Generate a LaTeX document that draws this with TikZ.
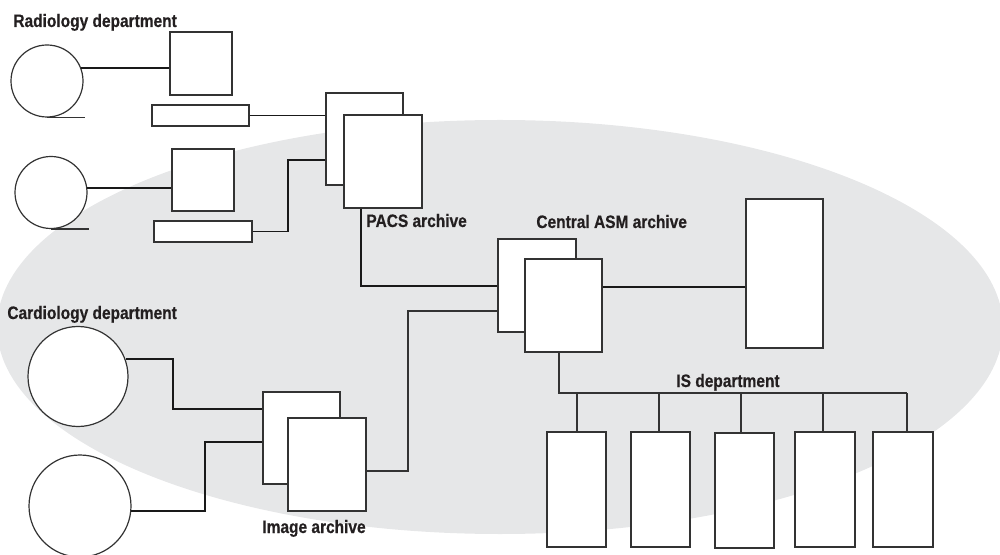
\documentclass[tikz,border=0pt]{standalone}
\usepackage{fontspec}
\newfontfamily\labfont{Liberation Sans}[FakeStretch=0.86,FakeBold=0.5]
\usetikzlibrary{fit}
\definecolor{bgray}{HTML}{E6E7E8}
\definecolor{lgray}{HTML}{333333}
\definecolor{tgray}{HTML}{231F20}
\tikzset{
  dev/.style={draw=lgray, fill=white, line width=0.6pt, inner sep=0pt},
  box/.style={dev, rectangle, fit={#1}},
  disk/.style={dev, circle, minimum size=#1},
  wire/.style={draw=black!90, line width=0.9pt},
  thinwire/.style={draw=lgray, line width=0.6pt},
  lab/.style={anchor=base west, inner sep=0pt, text=tgray, font=\labfont\bfseries\fontsize{9pt}{11pt}\selectfont}
}
\begin{document}
\begin{tikzpicture}[x=0.5pt,y=-0.5pt]
\useasboundingbox (0,0) rectangle (1000,555);
\clip (0,0) rectangle (1000,555);
\fill[bgray] (500,327) ellipse [x radius=503, y radius=207];

% Radiology
\node[lab] (radlab) at (13,27) {Radiology department};
\node[disk=36pt] (c1) at (47,81) {};
\node[disk=36pt] (c2) at (51,192.5) {};
\draw[thinwire] (c1.south) -- ++(38,0);
\draw[thinwire] (c2.south) -- ++(38,0);
\node[box={(170,32) (232,95)}] (mon1) {};
\node[box={(152,105) (249,126)}] (kb1) {};
\node[box={(172,149) (234,211)}] (mon2) {};
\node[box={(154,221) (252,242)}] (kb2) {};

% PACS
\node[box={(326,93) (403,185)}] (pacsb) {};
\node[box={(344,115) (422,208)}] (pacsf) {};
\node[lab] (pacslab) at (366,227) {PACS archive};

% Central ASM
\node[box={(498,239) (576,332)}] (casb) {};
\node[box={(525,259) (602,352)}] (casf) {};
\node[lab] (caslab) at (536,228) {Central ASM archive};
\node[box={(746,199) (823,348)}] (big) {};

% Cardiology
\node[lab] (cardlab) at (7,319) {Cardiology department};
\node[disk=50pt] (c3) at (78,376.5) {};
\node[disk=51pt] (c4) at (80,506) {};
\node[box={(263,392) (340,484)}] (iab) {};
\node[box={(288,418) (366,511)}] (iaf) {};
\node[lab] (ialab) at (262,533) {Image archive};

% IS department
\node[lab] (islab) at (676,387) {IS department};
\node[box={(547,432) (606,547)}] (is1) {};
\node[box={(631,432) (690,547)}] (is2) {};
\node[box={(715,433) (774,548)}] (is3) {};
\node[box={(795,432) (855,547)}] (is4) {};
\node[box={(873,432) (933,547)}] (is5) {};

% coordinates for bends
\coordinate (k2t) at (288,160);
\coordinate (p1) at (361,286);
\coordinate (ia) at (408,471);
\coordinate (ib) at (408,311);
\coordinate (c3a) at (173,409);
\coordinate (c4a) at (205,442);
\coordinate (cr) at (0,287);
\coordinate (bus) at (559,393);
\coordinate (d1) at (577,393);
\coordinate (d2) at (659,393);
\coordinate (d3) at (741,393);
\coordinate (d4) at (823,393);
\coordinate (d5) at (907,393);

% connectors
\draw[wire] (c1.21) -- (c1.21 -| mon1.west);
\draw[wire] (c2.7) -- (c2.7 -| mon2.west);
\draw[wire] (kb1.east) -- (kb1.east -| pacsb.west);
\draw[wire] (kb2.east) -| (k2t) -- (k2t -| pacsb.west);
\draw[wire] (p1 |- pacsf.south) -- (p1) -- (p1 -| casb.west);
\draw[thinwire] (ia -| iaf.east) -- (ia) -- (ib) -- (ib -| casb.west);
\draw[wire] (c3.20) -| (c3a) -- (c3a -| iab.west);
\draw[wire] (c4.-6) -| (c4a) -- (c4a -| iab.west);
\draw[wire] (casf.east |- cr) -- (big.west |- cr);
\draw[thinwire] (bus |- casf.south) -- (bus) -- (d5);
\draw[thinwire] (d1) -- (d1 |- is1.north);
\draw[thinwire] (d2) -- (d2 |- is2.north);
\draw[thinwire] (d3) -- (d3 |- is3.north);
\draw[thinwire] (d4) -- (d4 |- is4.north);
\draw[thinwire] (d5) -- (d5 |- is5.north);
\end{tikzpicture}
\end{document}
